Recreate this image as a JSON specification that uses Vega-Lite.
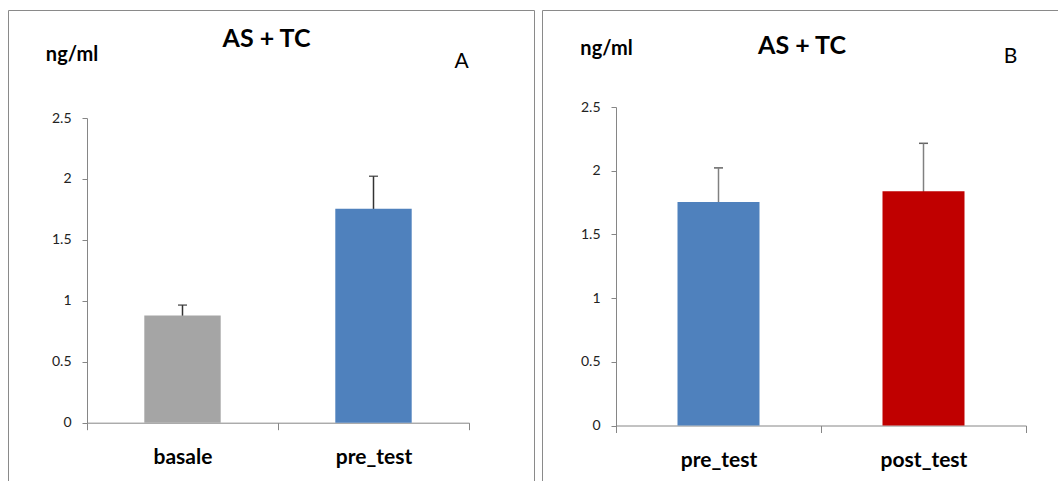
{
  "$schema": "https://vega.github.io/schema/vega-lite/v6.json",
  "background": "white",
  "padding": {"left": 7, "top": 9, "right": 0, "bottom": 0},
  "spacing": 6,
  "config": {"view": {"stroke": "#8a8a8a", "strokeWidth": 1}, "font": "Lato"},
  "resolve": {"scale": {"color": "independent"}},
  "hconcat": [
    {
      "width": 526,
      "height": 474,
      "title": {"text": "AS + TC", "anchor": "middle", "frame": "group", "baseline": "alphabetic", "offset": 0, "dy": 61.5, "dx": -4.5, "font": "Lato", "fontSize": 25, "fontWeight": "bold", "color": "#000"},
      "data": {"values": [
        {"group": "basale", "mean": 0.88, "err": 0.085},
        {"group": "pre_test", "mean": 1.755, "err": 0.267}
      ]},
      "encoding": {
        "x": {"field": "group", "type": "nominal", "sort": null,
          "scale": {"type": "band", "range": [79, 461], "paddingInner": 0, "paddingOuter": 0},
          "axis": {"orient": "bottom", "offset": -61.3, "tickBand": "extent", "tickSize": 7, "tickColor": "#868686", "domainColor": "#868686",
            "labelAngle": 0, "labelPadding": 34, "labelBaseline": "alphabetic", "labelFont": "Lato", "labelFontSize": 21, "labelFontWeight": "bold", "labelColor": "#000",
            "title": "A", "titleX": 453, "titleY": -355.7, "titleAlign": "center", "titleBaseline": "alphabetic", "titleFont": "Lato", "titleFontSize": 21, "titleFontWeight": "normal", "titleColor": "#000"}}
      },
      "layer": [
        {
          "mark": {"type": "errorbar", "ticks": {"size": 9, "color": "#222", "thickness": 1.5}, "rule": {"color": "#333", "strokeWidth": 1.5}},
          "encoding": {
            "y": {"field": "mean", "type": "quantitative", "title": "ng/ml", "scale": {"domain": [0, 2.5], "range": [412.7, 108], "nice": false}},
            "yError": {"field": "err"}
          }
        },
        {
          "mark": {"type": "bar", "width": {"band": 0.4}},
          "encoding": {
            "y": {"field": "mean", "type": "quantitative", "title": "ng/ml",
              "scale": {"domain": [0, 2.5], "range": [412.7, 108], "nice": false},
              "axis": {"values": [0, 0.5, 1, 1.5, 2, 2.5], "format": "~g", "offset": -79, "grid": false, "tickSize": 5, "tickColor": "#868686", "domainColor": "#868686",
                "labelPadding": 11, "labelFont": "Lato", "labelFontSize": 14, "labelColor": "#222",
                "title": "ng/ml", "titleAngle": 0, "titleX": -15.5, "titleY": 50.5, "titleAlign": "center", "titleBaseline": "alphabetic", "titleFont": "Lato", "titleFontSize": 20, "titleFontWeight": "bold", "titleColor": "#000"}},
            "color": {"field": "group", "type": "nominal", "scale": {"domain": ["basale", "pre_test"], "range": ["#a5a5a5", "#4f81bd"]}, "legend": null}
          }
        }
      ]
    },
    {
      "width": 522,
      "height": 474,
      "title": {"text": "AS + TC", "anchor": "middle", "frame": "group", "baseline": "alphabetic", "offset": 0, "dy": 68.5, "dx": -1, "font": "Lato", "fontSize": 25, "fontWeight": "bold", "color": "#000"},
      "data": {"values": [
        {"group": "pre_test", "mean": 1.755, "err": 0.267},
        {"group": "post_test", "mean": 1.838, "err": 0.377}
      ]},
      "encoding": {
        "x": {"field": "group", "type": "nominal", "sort": null,
          "scale": {"type": "band", "range": [74, 484], "paddingInner": 0, "paddingOuter": 0},
          "axis": {"orient": "bottom", "offset": -58.5, "tickBand": "extent", "tickSize": 7, "tickColor": "#868686", "domainColor": "#868686",
            "labelAngle": 0, "labelPadding": 34, "labelBaseline": "alphabetic", "labelFont": "Lato", "labelFontSize": 21, "labelFontWeight": "bold", "labelColor": "#000",
            "title": "B", "titleX": 468, "titleY": -363.5, "titleAlign": "center", "titleBaseline": "alphabetic", "titleFont": "Lato", "titleFontSize": 21, "titleFontWeight": "normal", "titleColor": "#000"}}
      },
      "layer": [
        {
          "mark": {"type": "errorbar", "ticks": {"size": 9, "color": "#222", "thickness": 1.5}, "rule": {"color": "#808080", "strokeWidth": 1.5}},
          "encoding": {
            "y": {"field": "mean", "type": "quantitative", "title": "ng/ml", "scale": {"domain": [0, 2.5], "range": [415.5, 97], "nice": false}},
            "yError": {"field": "err"}
          }
        },
        {
          "mark": {"type": "bar", "width": {"band": 0.4}},
          "encoding": {
            "y": {"field": "mean", "type": "quantitative", "title": "ng/ml",
              "scale": {"domain": [0, 2.5], "range": [415.5, 97], "nice": false},
              "axis": {"values": [0, 0.5, 1, 1.5, 2, 2.5], "format": "~g", "offset": -74, "grid": false, "tickSize": 5, "tickColor": "#868686", "domainColor": "#868686",
                "labelPadding": 11, "labelFont": "Lato", "labelFontSize": 14, "labelColor": "#222",
                "title": "ng/ml", "titleAngle": 0, "titleX": -10, "titleY": 44.8, "titleAlign": "center", "titleBaseline": "alphabetic", "titleFont": "Lato", "titleFontSize": 20, "titleFontWeight": "bold", "titleColor": "#000"}},
            "color": {"field": "group", "type": "nominal", "scale": {"domain": ["pre_test", "post_test"], "range": ["#4f81bd", "#c00000"]}, "legend": null}
          }
        }
      ]
    }
  ]
}
